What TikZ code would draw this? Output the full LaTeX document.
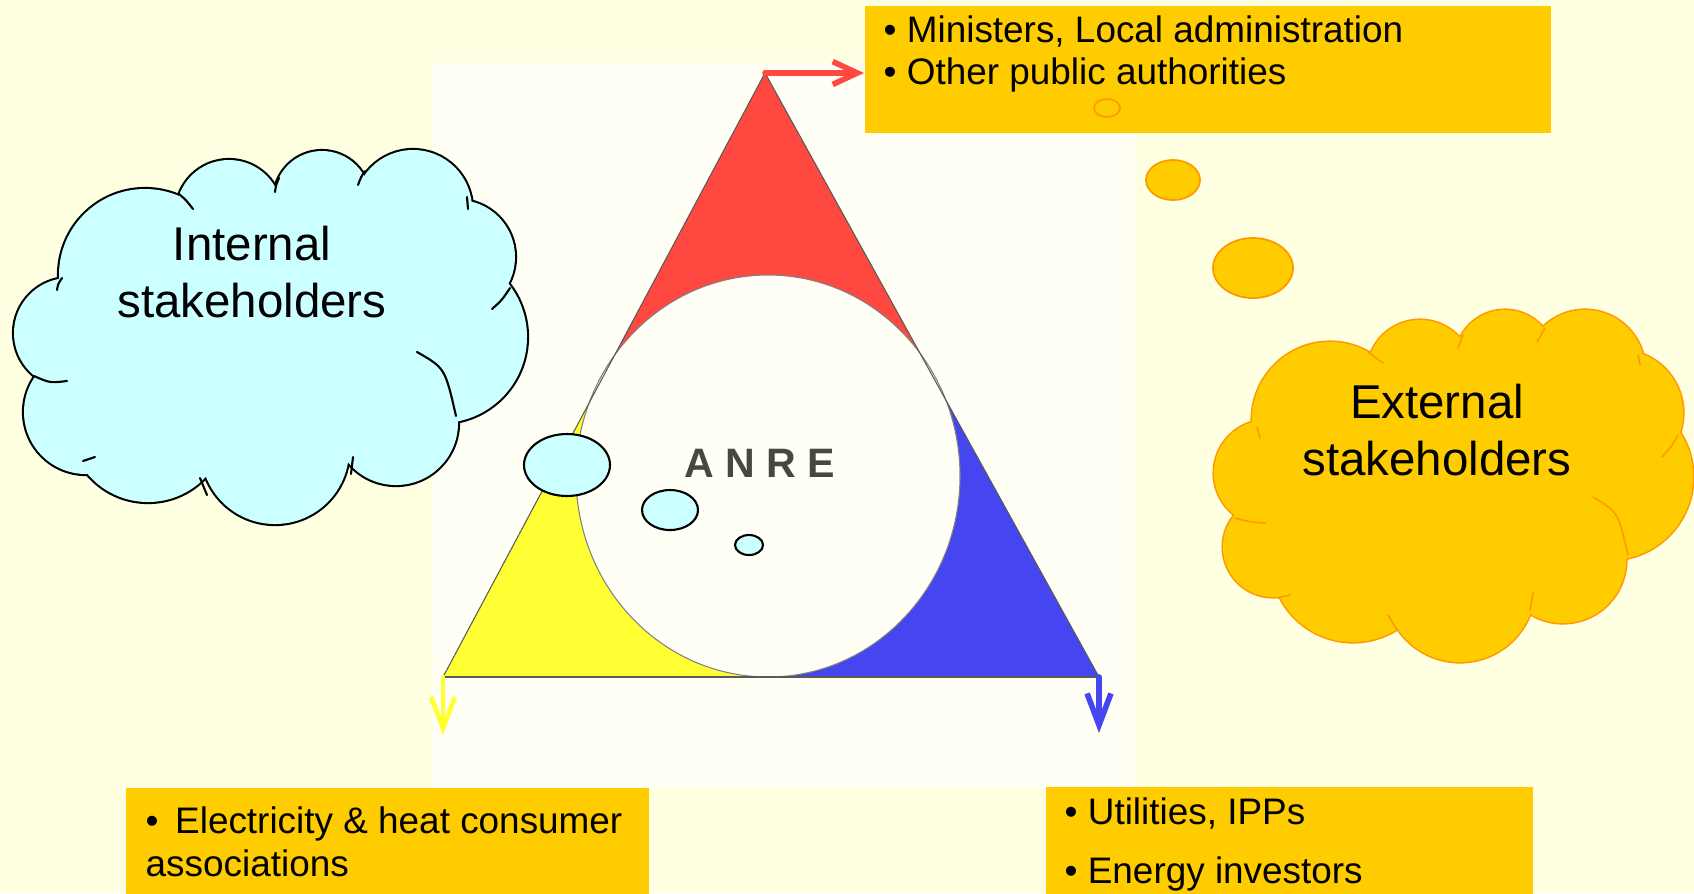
\documentclass[tikz,border=0pt]{standalone}
\usepackage{fontspec}
\setmainfont{Liberation Sans}
\usetikzlibrary{arrows.meta,positioning}
\definecolor{bgyellow}{RGB}{255,255,225}
\definecolor{panelwhite}{RGB}{255,255,246}
\definecolor{boxyellow}{RGB}{255,204,0}
\definecolor{puffcyan}{RGB}{204,255,255}
\definecolor{rimorange}{RGB}{255,153,0}
\definecolor{trired}{RGB}{255,72,64}
\definecolor{triyellow}{RGB}{255,255,51}
\definecolor{triblue}{RGB}{70,70,240}
\definecolor{anregrey}{RGB}{72,72,64}

\begin{document}
\begin{tikzpicture}[line join=round, line cap=round, x=0.1mm, y=-0.1mm]
\tikzset{box/.style={fill=boxyellow, inner sep=0pt, anchor=north west},
  listtext/.style={anchor=west, align=left, inner sep=0pt, font=\fontsize{10.5}{12.2}\selectfont},
  cloudtext/.style={align=center, inner sep=0pt, font=\fontsize{13.5}{16.2}\selectfont},
  bubble/.style={fill=puffcyan, draw=black, line width=0.6pt},
  orangebubble/.style={fill=boxyellow, draw=rimorange, line width=0.5pt}}
\useasboundingbox (0,0) rectangle (1694,893);
\fill[bgyellow] (0,0) rectangle (1694,893);
\fill[panelwhite] (432,63) rectangle (1135,788);
% triangle
\coordinate (A) at (765,73);
\coordinate (B) at (443,677);
\coordinate (C) at (1099,677);
\coordinate (O) at (768,476);
\coordinate (L) at (602.4,378);
\coordinate (R) at (930.3,372);
\coordinate (M) at (768,677);
\fill[trired] (A) -- (L) -- (O) -- (R) -- cycle;
\fill[triyellow] (B) -- (M) -- (O) -- (L) -- cycle;
\fill[triblue] (C) -- (R) -- (O) -- (M) -- cycle;
\filldraw[fill=panelwhite, draw=gray, line width=0.3pt] (O) ellipse [x radius=192, y radius=201];
\draw[gray!70!black, line width=0.3pt] (B) -- (A) -- (C);
\draw[gray!70!black, line width=0.6pt] (B) -- (C);
\node[font=\bfseries\fontsize{11.7}{14}\selectfont, text=anregrey] (anre) at (760,463) {A N R E};
% small bubbles
\draw[bubble] (567,465) ellipse [x radius=43, y radius=31];
\draw[bubble] (670,510) ellipse [x radius=28, y radius=20];
\draw[bubble] (749,545) ellipse [x radius=14, y radius=10];
% internal cloud
\foreach \cx/\cy/\r in {69/333/55, 145/275/86, 229/213/53, 322/199/48, 413/209/59, 458/257/57,
  441/337/86, 396/423/62, 275/450/74, 148/423/79, 86/412/62}
  \draw[line width=1.2pt] (\cx,\cy) circle [radius=\r];
\foreach \cx/\cy/\r in {69/333/55, 145/275/86, 229/213/53, 322/199/48, 413/209/59, 458/257/57,
  441/337/86, 396/423/62, 275/450/74, 148/423/79, 86/412/62, 350/255/45}
  \fill[puffcyan] (\cx,\cy) circle [radius=\r];
\fill[puffcyan] (270,335) ellipse [x radius=170, y radius=120];
\foreach \ax/\ay/\kx/\ky/\bx/\by in {62/278/58/284/57/290, 67/381/50/383/34/376, 193/209/186/200/179/194,
  275/192/276/185/279/178, 358/185/361/177/365/171, 468/209/468/203/467/197, 492/309/502/300/510/288,
  417/352/445/368/456/416, 351/474/352/465/353/457, 200/478/203/487/207/495, 83/461/89/459/95/457}
  \draw[line width=0.6pt] (\ax,\ay) .. controls (\kx,\ky) .. (\bx,\by);
\node[cloudtext] (internal) at (252,272) {Internal\\stakeholders};
% external cloud
\foreach \cx/\cy/\r in {1330/420/78, 1420/373/53, 1505/360/50, 1585/370/60, 1620/413/63, 1610/477/83,
  1563/560/63, 1460/587/75, 1353/560/82, 1273/547/50, 1267/473/53}
  \draw[rimorange, line width=0.9pt] (\cx,\cy) circle [radius=\r];
\foreach \cx/\cy/\r in {1330/420/78, 1420/373/53, 1505/360/50, 1585/370/60, 1620/413/63, 1610/477/83,
  1563/560/63, 1460/587/75, 1353/560/82, 1273/547/50, 1267/473/53}
  \fill[boxyellow] (\cx,\cy) circle [radius=\r];
\fill[boxyellow] (1450,480) ellipse [x radius=170, y radius=110];
\foreach \ax/\ay/\kx/\ky/\bx/\by in {1260/438/1258/432/1257/427, 1235/518/1250/522/1265/523,
  1383/363/1375/357/1368/352, 1458/348/1460/341/1463/335, 1537/342/1541/335/1545/328,
  1640/365/1639/360/1638/355, 1662/457/1671/447/1678/435, 1593/497/1618/512/1628/555,
  1533/593/1531/602/1530/610, 1388/615/1392/623/1397/630, 1277/598/1283/596/1290/595}
  \draw[rimorange, line width=0.45pt] (\ax,\ay) .. controls (\kx,\ky) .. (\bx,\by);
\node[cloudtext] (external) at (1437,430) {External\\stakeholders};
\draw[orangebubble] (1173,180) ellipse [x radius=27, y radius=20];
\draw[orangebubble] (1253,268) ellipse [x radius=40, y radius=30];
% boxes
\node[box, minimum width=68.6mm, minimum height=12.7mm] (topbox) at (864,5) {};
\node[box, minimum width=52.3mm, minimum height=10.6mm] (leftbox) at (125,787) {};
\node[box, minimum width=48.7mm, minimum height=10.7mm] (rightbox) at (1045,786) {};
\draw[rimorange, line width=0.5pt] (1107,108) ellipse [x radius=13, y radius=9];
\node[listtext] (toplist) at (883,54) {• Ministers, Local administration\\• Other public authorities};
\node[listtext] (leftlist) at (145,842) {•\hspace{0.45em}Electricity \& heat consumer\\associations};
\node[listtext] (rightlist) at (1064,844) {• Utilities, IPPs\\[4.6pt]• Energy investors};
% arrows
\coordinate (yellowend) at (443,735);
\coordinate (blueend) at (1099,733);
\draw[trired, line width=1.6pt, -{Straight Barb[length=7pt,width=6.5pt]}] (A) -- (A -| topbox.west);
\draw[triyellow, line width=1.3pt, -{Straight Barb[length=9pt,width=6.8pt]}] (B) -- (yellowend);
\draw[triblue, line width=1.6pt, -{Straight Barb[length=9pt,width=6.8pt]}] (C) -- (blueend);
\end{tikzpicture}
\end{document}
